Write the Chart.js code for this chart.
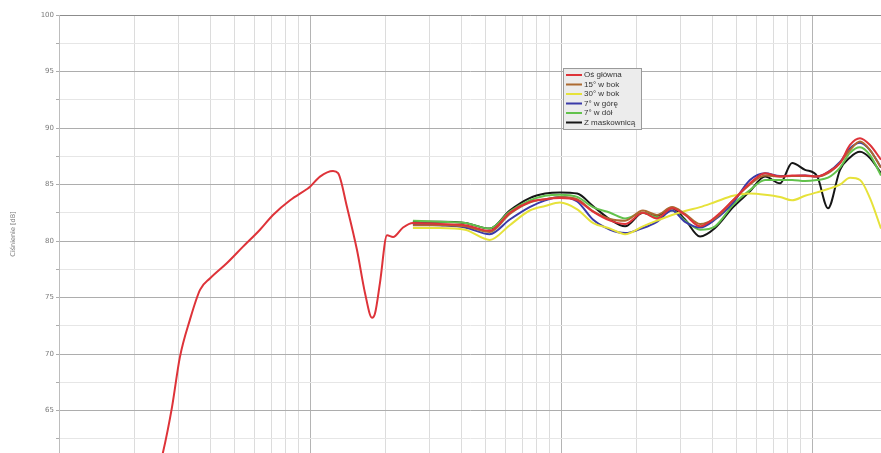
<!DOCTYPE html>
<html>
<head>
<meta charset="utf-8">
<title>Charakterystyka częstotliwościowa</title>
<script src="https://cdn.jsdelivr.net/npm/chart.js@4.4.1/dist/chart.umd.min.js"></script>
<style>
  html, body { margin: 0; padding: 0; background: #fff; overflow: hidden; }
  #wrap { position: relative; width: 881px; height: 453px; }
</style>
</head>
<body>
<div id="wrap"><canvas id="fr"></canvas></div>
<script>
// axis ranges
const FREQ_MIN = 10;
const FREQ_MAX = 18830;
const DB_MIN = 61.24;
const DB_MAX = 100;

const dbTicks = [62.5, 65, 67.5, 70, 72.5, 75, 77.5, 80, 82.5, 85, 87.5, 90, 92.5, 95, 97.5, 100];

// main axis, low frequency part (near field + port)
const lowFreq = [24, 25.9, 28.2, 30.3, 33.2, 36.5, 40, 46.7, 54.1, 63.2, 71.2, 83.3, 97.3, 100, 109.6, 123.5, 129.4, 140.4, 153.9, 165.6, 176.6, 181.6, 190, 202.7, 214.2, 234.8];
const lowOsGlowna = [58.5, 61.2, 65.3, 69.7, 73.0, 75.7, 76.7, 78.05, 79.5, 81.0, 82.3, 83.6, 84.6, 84.8, 85.7, 86.2, 86.0, 83.0, 79.2, 75.4, 73.2, 73.6, 76.3, 80.5, 80.35, 81.2];

// shared frequency grid for the off-axis measurements
const midFreq = [257, 330, 415, 520, 625, 750, 865, 990, 1160, 1340, 1570, 1800, 2120, 2410, 2770, 3120, 3580, 4110, 4850, 5660, 6500, 7460, 8330, 9380, 10470, 11580, 12930, 14170, 15530, 17020, 18830];

const osGlowna   = [81.6, 81.5, 81.4, 80.9, 82.5, 83.45, 83.7, 83.8, 83.6, 82.6, 81.8, 81.5, 82.5, 82.0, 82.9, 82.3, 81.3, 82.1, 83.6, 85.1, 86.0, 85.7, 85.8, 85.8, 85.7, 86.1, 86.9, 88.5, 89.1, 88.5, 87.2];
const bok15      = [81.4, 81.4, 81.3, 80.8, 82.4, 83.4, 83.7, 83.9, 83.7, 82.65, 81.95, 81.8, 82.7, 82.3, 83.0, 82.4, 81.5, 82.0, 83.6, 85.0, 85.8, 85.7, 85.75, 85.75, 85.7, 86.0, 86.9, 88.05, 88.8, 88.05, 86.5];
const bok30      = [81.15, 81.15, 81.0, 80.1, 81.4, 82.7, 83.1, 83.4, 82.8, 81.6, 81.1, 80.6, 81.3, 81.8, 82.3, 82.65, 83.0, 83.45, 84.0, 84.2, 84.1, 83.9, 83.6, 84.0, 84.3, 84.6, 85.0, 85.6, 85.4, 83.8, 81.1];
const gora7      = [81.5, 81.4, 81.2, 80.6, 81.9, 83.0, 83.6, 83.9, 83.5, 81.9, 81.0, 80.7, 81.15, 81.7, 82.7, 81.7, 81.2, 81.9, 83.4, 85.4, 86.0, 85.75, 85.75, 85.8, 85.7, 86.1, 87.0, 88.2, 88.7, 88.05, 86.5];
const dol7       = [81.8, 81.7, 81.6, 81.1, 82.6, 83.6, 84.0, 84.1, 83.9, 83.0, 82.5, 82.0, 82.5, 82.1, 82.7, 81.8, 81.0, 81.3, 83.2, 84.5, 85.4, 85.4, 85.4, 85.3, 85.4, 85.6, 86.5, 87.8, 88.3, 87.6, 85.8];
const maskownica = [81.7, 81.7, 81.6, 81.1, 82.7, 83.8, 84.2, 84.3, 84.2, 83.1, 81.9, 81.3, 82.5, 82.2, 82.9, 81.9, 80.4, 81.15, 83.0, 84.4, 85.7, 85.1, 86.9, 86.3, 85.75, 82.9, 86.3, 87.4, 87.9, 87.35, 86.0];

const seriesNames  = ['Oś główna', '15° w bok', '30° w bok', '7° w górę', '7° w dół', 'Z maskownicą'];
const seriesColors = ['#de3339', '#ad6a31', '#e6e23a', '#3a3aa8', '#62c24c', '#161616'];
const seriesValues = [osGlowna, bok15, bok30, gora7, dol7, maskownica];

const toPoints = (xs, ys) => xs.map((x, i) => ({ x, y: ys[i] }));

const datasets = seriesValues.map((vals, i) => {
    let pts = toPoints(midFreq, vals);
    if (i === 0) pts = toPoints(lowFreq, lowOsGlowna).concat(pts);
    return {
        label: seriesNames[i],
        data: pts,
        borderColor: seriesColors[i],
        backgroundColor: seriesColors[i],
        borderWidth: 2,
        pointRadius: 0,
        fill: false,
        cubicInterpolationMode: 'monotone',
    };
});

// 1..9 x 10^n grid lines for the log axis
const freqTicks = [];
for (let d = FREQ_MIN; d <= FREQ_MAX; d *= 10) {
    for (let k = 1; k <= 9; k++) {
        const v = k * d;
        if (v <= FREQ_MAX) freqTicks.push(v);
    }
}
const isDecade = v => Math.abs(Math.log10(v) - Math.round(Math.log10(v))) < 1e-9;

// small boxed legend sitting inside the plot
const boxLegend = {
    id: 'boxLegend',
    afterDatasetsDraw(chart) {
        const { ctx, chartArea } = chart;
        const x = chartArea.left + 504;
        const y = chartArea.top + 53;
        const w = 78, h = 61, row = 9.5;
        ctx.save();
        ctx.fillStyle = '#ececec';
        ctx.strokeStyle = '#9a9a9a';
        ctx.lineWidth = 1;
        ctx.fillRect(x, y, w, h);
        ctx.strokeRect(x + 0.5, y + 0.5, w, h);
        ctx.font = '8px "Liberation Sans", Arial, sans-serif';
        ctx.textBaseline = 'middle';
        seriesNames.forEach((name, i) => {
            const cy = y + 7 + i * row;
            ctx.strokeStyle = seriesColors[i];
            ctx.lineWidth = 2;
            ctx.beginPath();
            ctx.moveTo(x + 3, cy);
            ctx.lineTo(x + 19, cy);
            ctx.stroke();
            ctx.fillStyle = '#333';
            ctx.fillText(name, x + 21, cy);
        });
        ctx.restore();
    }
};

new Chart(document.getElementById('fr'), {
    type: 'line',
    data: { datasets },
    options: {
        responsive: true,
        maintainAspectRatio: false,
        animation: false,
        layout: { padding: { top: 15, right: 0, bottom: 0, left: 0 } },
        scales: {
            x: {
                type: 'logarithmic',
                min: FREQ_MIN,
                max: FREQ_MAX,
                afterBuildTicks: s => { s.ticks = freqTicks.map(v => ({ value: v })); },
                afterFit: s => { s.height = 0; s.paddingLeft = 0; s.paddingRight = 0; },
                ticks: { display: false },
                grid: {
                    drawTicks: false,
                    color: c => (c.tick && isDecade(c.tick.value)) ? '#b4b4b4' : '#dcdcdc',
                    lineWidth: 1,
                },
                border: { display: false },
            },
            y: {
                min: DB_MIN,
                max: DB_MAX,
                afterBuildTicks: s => { s.ticks = dbTicks.map(v => ({ value: v })); },
                afterFit: s => { s.width = 59; s.paddingTop = 0; s.paddingBottom = 0; },
                ticks: {
                    callback: v => (v % 5 === 0 ? String(v) : ''),
                    color: '#7a7a7a',
                    font: { family: 'DejaVu Sans', size: 7 },
                    padding: 2,
                },
                grid: {
                    color: c => {
                        if (!c.tick) return '#e6e6e6';
                        if (c.tick.value === 100) return '#8c8c8c';
                        return c.tick.value % 5 === 0 ? '#adadad' : '#e6e6e6';
                    },
                    tickColor: '#adadad',
                    tickLength: 3,
                },
                border: { color: '#bdbdbd' },
                title: {
                    display: true,
                    text: 'Ciśnienie [dB]',
                    color: '#7a7a7a',
                    font: { family: 'DejaVu Sans', size: 6.5 },
                    padding: { top: 9, bottom: 0 },
                },
            },
        },
        plugins: {
            legend: { display: false },
            tooltip: { enabled: false },
        },
    },
    plugins: [boxLegend],
});
</script>
</body>
</html>
